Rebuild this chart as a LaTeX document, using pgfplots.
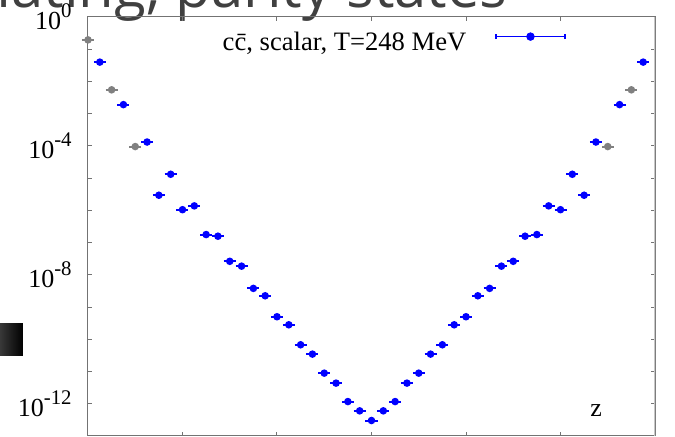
\documentclass[border=0pt]{standalone}
\usepackage{pgfplots}
\pgfplotsset{compat=1.18}
\usepackage{fontspec}
\setmainfont{Liberation Serif}
\newfontfamily\titlefont{Open Sans}
\definecolor{ptblue}{RGB}{0,0,255}
\definecolor{ptgray}{RGB}{128,128,128}
\pgfdeclareplotmark{dotbar}{%
  \pgfpathmoveto{\pgfpoint{-3pt}{0pt}}\pgfpathlineto{\pgfpoint{3pt}{0pt}}%
  \pgfsetlinewidth{1pt}\pgfusepathqstroke
  \pgfpathcircle{\pgfpointorigin}{\pgfplotmarksize}\pgfusepathqfill}
\newcommand\tl[1]{10\raisebox{0.46em}{\fontsize{10.4}{12}\selectfont #1}}
\begin{document}
\begin{tikzpicture}
\useasboundingbox (-44pt,-0.5pt) rectangle (293.5pt,218pt);
\clip (-44pt,-0.5pt) rectangle (293.5pt,218pt);
\node[anchor=base east, text=black!75, inner sep=0pt, font=\titlefont\fontsize{29}{33}\selectfont] at (210pt,214pt) {alternating, parity states};
\shade[left color=black!78, right color=black] (-44pt,40pt) rectangle (-32.5pt,56pt);
\begin{axis}[
  scale only axis, width=283.5pt, height=209.5pt,
  at={(0pt,0pt)}, anchor=south west,
  xmin=0, xmax=48, ymode=log, ymin=1e-13, ymax=1,
  xtick={0,8,...,48}, xticklabels={},
  ytick={1e-12,1e-8,1e-4,1},
  yticklabels={\tl{-12},\tl{-8},\tl{-4},\tl{0}},
  minor ytick={1e-13,1e-11,1e-10,1e-9,1e-7,1e-6,1e-5,1e-3,1e-2,1e-1},
  tick align=inside, major tick length=2pt, minor tick length=2pt,
  axis line style={black!55, line width=0.5pt},
  every tick/.style={black!55, line width=0.5pt},
  yticklabel style={font=\fontsize{13}{15}\selectfont, inner sep=0pt, xshift=-8pt},
  legend style={draw=none, fill=none, at={(0.843,0.975)}, anchor=north east,
    font=\fontsize{13.3}{15}\selectfont, inner sep=0pt, column sep=12.5pt},
  legend cell align=right, legend plot pos=right,
]
\addplot[only marks, mark=dotbar, mark size=1.9pt, color=ptgray, forget plot] coordinates {
(0,1.95e-1) (2,5.50e-3) (4,9.55e-5) (44,9.55e-5) (46,5.50e-3)
};
\addplot[only marks, mark=dotbar, mark size=1.9pt, color=ptblue,
  legend image code/.code={
    \draw[ptblue, line width=0.6pt] (0pt,3pt)--(34.5pt,3pt);
    \draw[ptblue, line width=0.6pt] (0pt,1.7pt)--(0pt,4.3pt) (34.5pt,1.7pt)--(34.5pt,4.3pt);
    \fill[ptblue] (17.25pt,3pt) circle (1.9pt);}
] coordinates {
(1,3.98e-2) (3,1.91e-3) (5,1.32e-4) (6,2.95e-6) (7,1.32e-5) (8,1.05e-6)
(9,1.38e-6) (10,1.78e-7) (11,1.58e-7) (12,2.63e-8) (13,1.86e-8) (14,3.80e-9)
(15,2.24e-9) (16,5.01e-10) (17,2.82e-10) (18,6.76e-11) (19,3.47e-11) (20,8.91e-12)
(21,4.37e-12) (22,1.17e-12) (23,6.03e-13) (24,3.02e-13) (25,6.03e-13) (26,1.17e-12)
(27,4.37e-12) (28,8.91e-12) (29,3.47e-11) (30,6.76e-11) (31,2.82e-10) (32,5.01e-10)
(33,2.24e-9) (34,3.80e-9) (35,1.86e-8) (36,2.63e-8) (37,1.58e-7) (38,1.78e-7)
(39,1.38e-6) (40,1.05e-6) (41,1.32e-5) (42,2.95e-6) (43,1.32e-4) (45,1.91e-3)
(47,3.98e-2)
};
\addlegendentry{c\=c, scalar, T=248 MeV}
\draw[black!22, line width=1.3pt] (rel axis cs:1,0) -- (rel axis cs:1,1);
\node[anchor=base, font=\fontsize{13}{15}\selectfont] at (rel axis cs:0.896,0.0477) {z};
\end{axis}
\end{tikzpicture}
\end{document}
